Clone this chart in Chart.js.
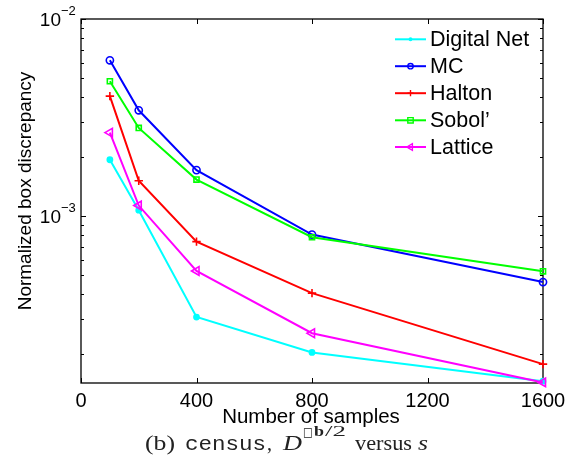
<!DOCTYPE html>
<html>
<head>
<meta charset="utf-8">
<script src="https://cdn.jsdelivr.net/npm/chart.js@4/dist/chart.umd.min.js"></script>
<style>
  html, body { margin: 0; padding: 0; background: #ffffff; }
  #wrap { width: 573px; height: 466px; }
</style>
</head>
<body>
<div id="wrap"><canvas id="c" width="573" height="466"></canvas></div>
<script>
// ---- data ----
const samples = [100, 200, 400, 800, 1600];
const digitalNet = [1.93e-3, 1.07e-3, 3.07e-4, 2.03e-4, 1.45e-4];
const mc         = [6.17e-3, 3.44e-3, 1.71e-3, 8.05e-4, 4.62e-4];
const halton     = [4.06e-3, 1.51e-3, 7.41e-4, 4.06e-4, 1.77e-4];
const sobol      = [4.83e-3, 2.80e-3, 1.53e-3, 7.80e-4, 5.24e-4];
const lattice    = [2.65e-3, 1.13e-3, 5.26e-4, 2.54e-4, 1.43e-4];

const seriesNames = ['Digital Net', 'MC', 'Halton', "Sobol\u2019", 'Lattice'];
const xTicks = [0, 400, 800, 1200, 1600];
const yMajorTicks = [1e-3, 1e-2];
const yTickLabels = [['10', '\u22123'], ['10', '\u22122']];
const xTitle = 'Number of samples';
const yTitle = 'Normalized box discrepancy';

const styles = [
  { color: '#00ffff', point: 'circle',   radius: 2.6, fill: true,  rot: 0 },
  { color: '#0000ff', point: 'circle',   radius: 3.6, fill: false, rot: 0 },
  { color: '#ff0000', point: 'cross',    radius: 4.2, fill: false, rot: 0 },
  { color: '#00ff00', point: 'rect',     radius: 3.6, fill: false, rot: 0 },
  { color: '#ff00ff', point: 'triangle', radius: 5.0, fill: false, rot: -90 }
];
const allSeries = [digitalNet, mc, halton, sobol, lattice];

const datasets = allSeries.map((vals, i) => ({
  label: seriesNames[i],
  data: samples.map((x, j) => ({ x: x, y: vals[j] })),
  borderColor: styles[i].color,
  backgroundColor: styles[i].fill ? styles[i].color : 'rgba(255,255,255,0)',
  borderWidth: 2,
  pointStyle: styles[i].point,
  pointRadius: styles[i].radius,
  pointRotation: styles[i].rot,
  pointBorderWidth: 1.6,
  pointBorderColor: styles[i].color,
  pointBackgroundColor: styles[i].fill ? styles[i].color : 'rgba(255,255,255,0)',
  tension: 0,
  clip: false,
  order: allSeries.length - 1 - i
}));

const SANS = '"Liberation Sans", Arial, sans-serif';
const SERIF = '"Liberation Serif", "Times New Roman", serif';
const MONO = '"Liberation Mono", "DejaVu Sans Mono", monospace';

function drawMarker(ctx, st, x, y, r) {
  ctx.save();
  ctx.strokeStyle = st.color;
  ctx.fillStyle = st.color;
  ctx.lineWidth = 1.4;
  ctx.beginPath();
  if (st.point === 'circle') {
    ctx.arc(x, y, r, 0, Math.PI * 2);
    if (st.fill) ctx.fill(); else ctx.stroke();
  } else if (st.point === 'cross') {
    ctx.moveTo(x - r, y); ctx.lineTo(x + r, y);
    ctx.moveTo(x, y - r); ctx.lineTo(x, y + r);
    ctx.stroke();
  } else if (st.point === 'rect') {
    ctx.rect(x - r, y - r, 2 * r, 2 * r);
    ctx.stroke();
  } else if (st.point === 'triangle') {
    const a = st.rot * Math.PI / 180;
    for (let k = 0; k < 3; k++) {
      const ang = a + k * 2 * Math.PI / 3;
      const px = x + Math.sin(ang) * r, py = y - Math.cos(ang) * r;
      if (k === 0) ctx.moveTo(px, py); else ctx.lineTo(px, py);
    }
    ctx.closePath();
    ctx.stroke();
  }
  ctx.restore();
}

const framePlugin = {
  id: 'frame',
  beforeDatasetsDraw(chart) {
    const ctx = chart.ctx;
    const a = chart.chartArea;
    const xs = chart.scales.x, ys = chart.scales.y;
    ctx.save();
    ctx.strokeStyle = '#000';
    ctx.lineWidth = 1.3;
    ctx.strokeRect(a.left, a.top, a.right - a.left, a.bottom - a.top);
    ctx.lineWidth = 1;
    ctx.beginPath();
    xTicks.forEach(v => {
      const px = Math.round(xs.getPixelForValue(v)) + 0.5;
      ctx.moveTo(px, a.bottom); ctx.lineTo(px, a.bottom - 5);
      ctx.moveTo(px, a.top); ctx.lineTo(px, a.top + 5);
    });
    for (let e = -4; e <= -2; e++) {
      for (let m = 1; m <= 9; m++) {
        const v = m * Math.pow(10, e);
        if (v < ys.min * 0.9999 || v > ys.max * 1.0001) continue;
        const py = Math.round(ys.getPixelForValue(v)) + 0.5;
        const len = (m === 1) ? 5 : 3;
        ctx.moveTo(a.left, py); ctx.lineTo(a.left + len, py);
        ctx.moveTo(a.right, py); ctx.lineTo(a.right - len, py);
      }
    }
    ctx.stroke();
    ctx.restore();
  },
  afterDraw(chart) {
    const ctx = chart.ctx;
    const ys = chart.scales.y;
    ctx.save();
    ctx.fillStyle = '#000';
    // y tick labels with superscripts
    yMajorTicks.forEach((v, i) => {
      const py = ys.getPixelForValue(v);
      ctx.font = '19px ' + SANS;
      ctx.textAlign = 'right';
      ctx.textBaseline = 'alphabetic';
      ctx.fillText(yTickLabels[i][0], 61, py + 7);
      ctx.font = '13px ' + SANS;
      ctx.textAlign = 'left';
      ctx.fillText(yTickLabels[i][1], 61, py - 4);
    });
    // axis titles
    ctx.font = '20.5px ' + SANS;
    ctx.textAlign = 'center';
    ctx.textBaseline = 'alphabetic';
    ctx.fillText(xTitle, 311, 423);
    ctx.save();
    ctx.translate(31, 191);
    ctx.rotate(-Math.PI / 2);
    ctx.font = '19px ' + SANS;
    ctx.fillText(yTitle, 0, 0);
    ctx.restore();

    // legend
    const legX0 = 395, legX1 = 426, legTextX = 430;
    const legY = [39.3, 66.2, 93.2, 120.3, 147.0];
    chart.data.datasets.forEach((ds, i) => {
      const y = legY[i];
      ctx.save();
      ctx.strokeStyle = styles[i].color;
      ctx.lineWidth = 2;
      ctx.beginPath();
      ctx.moveTo(legX0, y); ctx.lineTo(legX1, y);
      ctx.stroke();
      ctx.restore();
      drawMarker(ctx, styles[i], (legX0 + legX1) / 2, y, styles[i].radius * 0.75);
      ctx.fillStyle = '#000';
      ctx.font = '21.5px ' + SANS;
      ctx.textAlign = 'left';
      ctx.textBaseline = 'middle';
      ctx.fillText(ds.label, legTextX, y + 1);
    });

    // caption: (b) census, D^{□b/2} versus s  (Computer-Modern-like layout)
    const base = 450;
    ctx.textAlign = 'left';
    ctx.textBaseline = 'alphabetic';
    ctx.fillStyle = '#222';
    const seg = (txt, font, x, y, w) => {
      ctx.font = font;
      const mw = ctx.measureText(txt).width;
      ctx.save();
      ctx.translate(x, y);
      ctx.scale(w / mw, 1);
      ctx.fillText(txt, 0, 0);
      ctx.restore();
    };
    seg('(b)', '21px ' + SERIF, 145, base, 30);
    seg('census', '20px ' + MONO, 185, base, 81);
    seg(',', '21px ' + SERIF, 267, base, 5);
    seg('D', 'italic 21px ' + SERIF, 283, base, 19);
    seg('\u25A1', '12px "DejaVu Sans", sans-serif', 303, base - 14, 10);
    seg('b', 'bold 14px ' + SERIF, 314, base - 14, 10);
    seg('/2', '14px ' + SERIF, 325, base - 14, 21);
    seg('versus', '21px ' + SERIF, 355, base, 57);
    seg('s', 'italic 21px ' + SERIF, 418, base, 10);
    ctx.restore();
  }
};

new Chart(document.getElementById('c'), {
  type: 'line',
  data: { datasets: datasets },
  options: {
    responsive: false,
    animation: false,
    devicePixelRatio: 1,
    layout: { padding: { top: 19, right: 30, left: 0, bottom: 0 } },
    plugins: { legend: { display: false }, tooltip: { enabled: false }, title: { display: false } },
    scales: {
      x: {
        type: 'linear',
        min: 0, max: 1600,
        afterBuildTicks: s => { s.ticks = xTicks.map(v => ({ value: v })); },
        afterFit: s => { s.height = 83; },
        grid: { display: false, drawTicks: false },
        border: { display: false },
        ticks: { color: '#000', padding: 6, maxRotation: 0, autoSkip: false,
                 callback: v => String(v),
                 font: { family: SANS, size: 20 } }
      },
      y: {
        type: 'logarithmic',
        min: 1.42e-4, max: 1e-2,
        afterFit: s => { s.width = 81; },
        grid: { display: false },
        border: { display: false },
        ticks: { display: false }
      }
    }
  },
  plugins: [framePlugin]
});
</script>
</body>
</html>
